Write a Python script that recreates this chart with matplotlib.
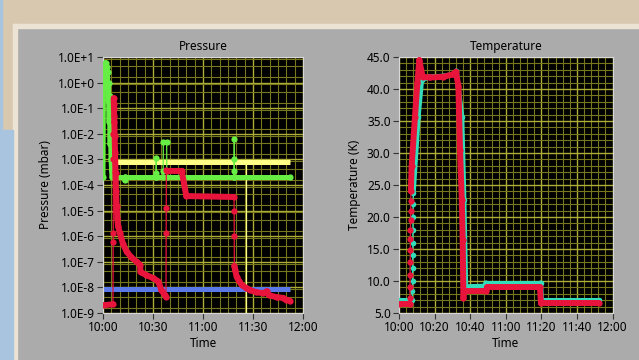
import numpy as np
import matplotlib
matplotlib.use("Agg")
import matplotlib.pyplot as plt
from matplotlib.collections import LineCollection
from matplotlib.patches import Rectangle
from matplotlib.ticker import MultipleLocator, LogLocator, FixedLocator, FuncFormatter, NullFormatter

plt.rcParams['font.family'] = ['Noto Sans', 'DejaVu Sans']

# time in minutes after 10:00
green_t = [0.0, 0.3, 0.6, 0.9, 1.2, 1.5, 1.8, 2.1, 2.4, 2.7, 3.0, 3.3, 3.6, 3.9, 4.2, 4.5, 4.8, 5.1, 5.4,
           13.0, 13.2, 13.4, 31.7, 31.8, 31.9, 32.0, 36.0, 36.1, 36.2, 38.2, 38.3,
           78.4, 78.5, 78.6, 78.7, 78.8, 112.0]
green_p = [2e-4, 3.0, 1.0, 5.0, 2.0, 6.0, 3.0, 4.0, 0.6, 2.5, 0.2, 1.0, 0.03, 0.3, 4e-3, 2e-2, 1e-3, 4e-4, 2e-4,
           2e-4, 1.5e-4, 2e-4, 2e-4, 3e-4, 1.1e-3, 2e-4, 2e-4, 3.5e-4, 5e-3, 5e-3, 2e-4,
           2e-4, 3.6e-4, 1e-3, 6.3e-3, 2e-4, 2e-4]

red_t = [0.0, 6.0, 6.1, 6.15, 6.2, 6.25, 6.3, 6.35, 6.4, 6.6, 6.8, 7.0, 7.2, 7.5, 7.8, 8.2, 8.6, 9.0,
         10.2, 12.0, 14.2, 17.0, 20.2, 22.2, 22.5, 26.0, 30.2, 33.2, 35.0, 37.0, 37.8, 37.9, 37.95,
         38.0, 38.1, 47.2, 50.0, 78.6, 78.7, 78.75, 78.8, 79.2, 80.2, 81.5, 83.2, 86.0, 88.2, 92.0,
         96.2, 98.2, 99.5, 104.2, 108.0, 110.0, 112.2]
red_p = [2e-9, 2.2e-9, 6e-7, 1.3e-6, 1e-3, 1e-2, 0.05, 0.15, 0.25, 0.1, 0.03, 8e-3, 2e-3, 3e-4, 6e-5, 1.5e-5, 5e-6, 2.5e-6,
         1.3e-6, 5e-7, 2.5e-7, 1.5e-7, 1e-7, 7.5e-8, 4e-8, 3e-8, 2.3e-8, 1.7e-8, 8e-9, 5e-9, 4.2e-9, 1.3e-6, 1.3e-5,
         4e-4, 3.6e-4, 3.6e-4, 3.7e-5, 3.4e-5, 1e-5, 1e-6, 7e-8, 5e-8, 2.6e-8, 1.8e-8, 1.25e-8, 9.5e-9, 7.9e-9, 6.5e-9,
         5.9e-9, 7e-9, 5e-9, 4.1e-9, 3.9e-9, 3.3e-9, 3e-9]

yellow_t = [6.0, 112.0]
yellow_p = [8e-4, 8e-4]
yellow_drop_t = 86.0

blue_t = [0.0, 112.0]
blue_p = [8.7e-9, 8.7e-9]

red_temp_t = [0.0, 6.1, 6.15, 6.2, 6.25, 6.3, 6.35, 6.4, 6.45, 6.5, 6.55, 6.6, 6.65, 7.1, 9.0, 10.3, 11.4,
              13.3, 17.4, 24.9, 30.5, 32.0, 33.4, 34.3, 35.3, 35.8, 36.2, 36.6, 49.0, 49.6, 79.2, 79.8, 112.6]
red_temp = [6.4, 6.4, 7.4, 9.0, 11.0, 13.0, 14.8, 16.5, 18.0, 19.5, 21.0, 22.5, 24.0, 27.9, 35.7, 40.9, 44.5,
            41.9, 41.8, 41.9, 42.3, 42.7, 40.4, 30.5, 22.7, 16.4, 7.3, 8.4, 8.4, 9.0, 9.0, 6.5, 6.5]

cyan_temp_t = [0.0, 7.5, 7.55, 7.6, 7.65, 7.7, 7.75, 7.8, 7.85, 7.9, 8.0, 10.8, 12.7, 17.0, 25.0, 30.5,
               32.2, 35.3, 36.5, 37.5, 48.3, 48.8, 79.6, 80.1, 112.6]
cyan_temp = [7.0, 7.0, 8.5, 10.0, 12.0, 14.0, 16.0, 18.0, 20.0, 22.0, 23.7, 35.7, 41.4, 41.9, 42.0, 42.3,
             42.8, 35.7, 22.7, 9.1, 9.2, 9.7, 9.7, 7.0, 7.0]

GREEN = '#66ee44'
RED = '#e8143c'
YELLOW = '#ffff88'
BLUE = '#5a78e6'
CYAN = '#33ddbb'


def draw_series(ax, t, v, color, thick, ms=4.5, z=3):
    # fast samples are drawn thin, slow ones thick, like the LabVIEW trace
    t = np.asarray(t, dtype=float)
    v = np.asarray(v, dtype=float)
    pts = np.column_stack([t, v]).reshape(-1, 1, 2)
    segs = np.concatenate([pts[:-1], pts[1:]], axis=1)
    widths = np.where(np.diff(t) < 0.15, 0.9, thick)
    lc = LineCollection(segs, linewidths=widths, colors=color, capstyle='round', zorder=z)
    ax.add_collection(lc)
    if ms:
        ax.plot(t, v, 'o', color=color, ms=ms, mec='none', zorder=z)


def time_fmt(v, pos):
    m = int(round(v))
    return f"{10 + m // 60}:{m % 60:02d}"


def style_axes(ax):
    ax.set_facecolor('black')
    ax.set_axisbelow(True)
    ax.grid(which='minor', color='#77771c', lw=0.8)
    ax.grid(which='major', color='#adad38', lw=1.0)
    ax.tick_params(which='major', direction='out', length=4, color='#333333', labelsize=8.5, pad=2)
    ax.tick_params(which='minor', length=0)
    for s in ax.spines.values():
        s.set_color('#d8d8d8')
        s.set_linewidth(0.8)
    ax.xaxis.set_major_formatter(FuncFormatter(time_fmt))


fig = plt.figure(figsize=(6.39, 3.6), dpi=100)
fig.patch.set_facecolor('#ababab')


def rect(x0, y0, x1, y1, c):
    fig.patches.append(Rectangle((x0 / 639, 1 - y1 / 360), (x1 - x0) / 639, (y1 - y0) / 360,
                                 transform=fig.transFigure, color=c, zorder=0))


rect(0, 0, 639, 24, '#d8c8b0')
rect(0, 0, 13, 360, '#d8c8b0')
rect(13, 24, 639, 28, '#ece3d4')
rect(13, 24, 17, 360, '#ece3d4')
rect(0, 0, 2, 360, '#a8c4de')
rect(0, 130, 13, 360, '#a8c4de')

# Pressure
ax1 = fig.add_axes([103 / 639, 47 / 360, 200 / 639, 256 / 360])
ax1.set_yscale('log')
style_axes(ax1)
ax1.set_xlim(0, 120)
ax1.set_ylim(1e-9, 1e1)
ax1.xaxis.set_major_locator(MultipleLocator(30))
ax1.xaxis.set_minor_locator(MultipleLocator(5))
ax1.yaxis.set_major_locator(FixedLocator([10.0 ** k for k in range(-9, 2)]))
ax1.yaxis.set_minor_locator(LogLocator(base=10, subs=(1.6, 4.3, 8.5), numticks=30))
ax1.yaxis.set_minor_formatter(NullFormatter())
ax1.yaxis.set_major_formatter(FuncFormatter(lambda v, p: f"1.0E{int(round(np.log10(v))):+d}"))

ax1.plot(yellow_t, yellow_p, color=YELLOW, lw=3.6, solid_capstyle='butt', zorder=2)
ax1.plot([yellow_drop_t, yellow_drop_t], [yellow_p[0], 1e-12], color=YELLOW, lw=0.9, zorder=2)
ax1.plot(blue_t, blue_p, color=BLUE, lw=3.6, solid_capstyle='butt', zorder=2)
draw_series(ax1, green_t, green_p, GREEN, 3.6, z=3)
draw_series(ax1, red_t, red_p, RED, 4.3, z=4)

ax1.set_title("Pressure", fontsize=8.5, pad=5)
ax1.set_xlabel("Time", fontsize=8.5, labelpad=2)
ax1.set_ylabel("Pressure (mbar)", fontsize=8.5, labelpad=4)

# Temperature
ax2 = fig.add_axes([399 / 639, 47 / 360, 213.5 / 639, 256 / 360])
style_axes(ax2)
ax2.set_xlim(0, 120)
ax2.set_ylim(5, 45)
ax2.xaxis.set_major_locator(MultipleLocator(20))
ax2.xaxis.set_minor_locator(MultipleLocator(4))
ax2.yaxis.set_major_locator(MultipleLocator(5))
ax2.yaxis.set_minor_locator(MultipleLocator(1))
ax2.yaxis.set_major_formatter(FuncFormatter(lambda v, p: f"{v:.1f}"))

draw_series(ax2, cyan_temp_t, cyan_temp, CYAN, 3.6, ms=4, z=3)
draw_series(ax2, red_temp_t, red_temp, RED, 4.3, z=4)

ax2.set_title("Temperature", fontsize=8.5, pad=5)
ax2.set_xlabel("Time", fontsize=8.5, labelpad=2)
ax2.set_ylabel("Temperature (K)", fontsize=8.5, labelpad=4)

fig.savefig("out.png", dpi=100, facecolor=fig.get_facecolor())
